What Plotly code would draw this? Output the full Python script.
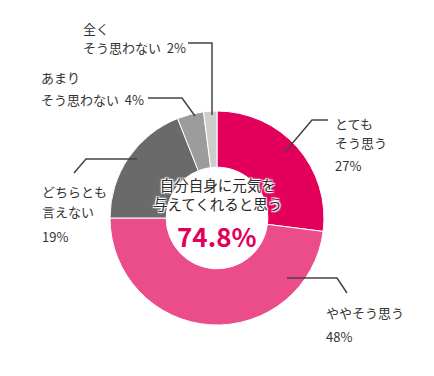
import plotly.graph_objects as go

categories = ["とてもそう思う", "ややそう思う", "どちらとも言えない", "あまりそう思わない", "全くそう思わない"]
values = [27, 48, 19, 4, 2]
colors = ["#E3005B", "#EB4D8B", "#6A6A6A", "#9C9C9C", "#CDCDCD"]
center_title = ["自分自身に元気を", "与えてくれると思う"]
center_value = "74.8%"

W, H = 434, 376
CX, CY, D = 217, 218, 214


def px(x, y):
    return x / W, 1 - y / H


fig = go.Figure(go.Pie(
    labels=categories, values=values, sort=False, direction="clockwise",
    hole=0.475, textinfo="none", hoverinfo="label+percent",
    marker=dict(colors=colors, line=dict(color="white", width=1)),
    domain=dict(x=[(CX - D / 2) / W, (CX + D / 2) / W],
                y=[1 - (CY + D / 2) / H, 1 - (CY - D / 2) / H]),
    showlegend=False,
))

FONT = "Noto Sans CJK JP"
TXT = "#333333"
ann = []


def label(x, y, text, size=13, **kw):
    xx, yy = px(x, y)
    ann.append(dict(x=xx, y=yy, xref="paper", yref="paper", text=text, showarrow=False,
                    xanchor=kw.get("xanchor", "left"), yanchor="middle",
                    align=kw.get("align", "left"),
                    font=dict(family=FONT, size=size, color=kw.get("color", TXT),
                              weight=kw.get("weight", "normal"), shadow=kw.get("shadow", "none"))))


pct = [f"{v}%" for v in values]
# 全く
label(81, 28, "全く")
label(81, 48, "そう思わない  " + pct[4])
# あまり
label(39, 78, "あまり")
label(39, 99, "そう思わない  " + pct[3])
# とても
label(333, 123, "とても")
label(333, 143, "そう思う")
label(333, 165, pct[0])
# どちらとも
label(40, 192, "どちらとも")
label(40, 211, "言えない")
label(40, 236, pct[2])
# やや
label(324, 312, "ややそう思う")
label(324, 336, pct[1])

halo = "1px 1px 1px #fff, -1px -1px 1px #fff, 1px -1px 1px #fff, -1px 1px 1px #fff, 0 0 3px #fff"
label(CX, 194, "<br>".join(center_title), size=14.5, xanchor="center", align="center",
      shadow=halo, color="#2a2a2a")
label(CX, 235, center_value, size=26, xanchor="center", color="#E3005B", weight="bold")

leaders = [
    [(188, 43), (212, 43), (212, 115)],
    [(148, 98), (182, 98), (195, 116)],
    [(328, 120), (312, 120), (285, 152)],
    [(74, 173), (86, 159), (137, 159)],
    [(287, 278), (337, 278), (347, 293)],
]
shapes = []
for pts in leaders:
    path = "M " + " L ".join(f"{px(x, y)[0]},{px(x, y)[1]}" for x, y in pts)
    shapes.append(dict(type="path", path=path, xref="paper", yref="paper",
                       line=dict(color="#444444", width=1.5)))

fig.update_layout(width=W, height=H, margin=dict(l=0, r=0, t=0, b=0),
                  paper_bgcolor="white", plot_bgcolor="white",
                  annotations=ann, shapes=shapes)
fig.write_html("out.html", config={"displayModeBar": False},
               post_script="document.body.style.margin='0';")
